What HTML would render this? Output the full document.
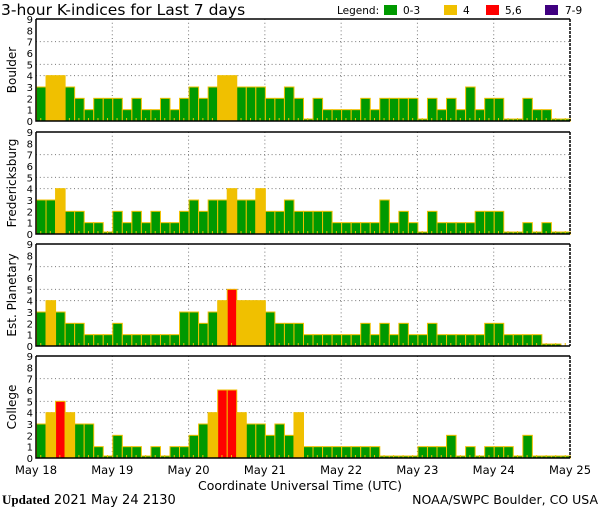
<!DOCTYPE html>
<html><head><meta charset="utf-8"><style>
html,body{margin:0;padding:0;background:#fff;}
svg text{font-family:"DejaVu Sans","Liberation Sans",sans-serif;}
</style></head><body>
<svg id="chart" width="600" height="510" viewBox="0 0 600 510" xmlns="http://www.w3.org/2000/svg">
<rect width="600" height="510" fill="#fff"/>
<text x="1" y="15" font-size="15.5" fill="#000">3-hour K-indices for Last 7 days</text>
<g font-size="10.5">
<text x="337" y="14">Legend:</text>
<rect x="384" y="5" width="13" height="10" fill="#009900"/>
<text x="403" y="14">0-3</text>
<rect x="444" y="5" width="13" height="10" fill="#f0c000"/>
<text x="463" y="14">4</text>
<rect x="486" y="5" width="13" height="10" fill="#ff0000"/>
<text x="505" y="14">5,6</text>
<rect x="545" y="5" width="13" height="10" fill="#400080"/>
<text x="565" y="14">7-9</text>
</g>
<g id="panels"></g>
<text x="300" y="490" font-size="12.5" text-anchor="middle">Coordinate Universal Time (UTC)</text>
<text x="2" y="504" font-size="13"><tspan font-family="Liberation Serif,serif" font-weight="bold">Updated</tspan> 2021 May 24 2130</text>
<text x="598" y="504" font-size="12.5" text-anchor="end">NOAA/SWPC Boulder, CO USA</text>
</svg>
<script>
const stations = ["Boulder","Fredericksburg","Est. Planetary","College"];
const dayLabels = ["May 18","May 19","May 20","May 21","May 22","May 23","May 24","May 25"];
const yTicks = [0,1,2,3,4,5,6,7,8,9];
const boulder = [3,4,4,3,2,1,2,2, 2,1,2,1,1,2,1,2, 3,2,3,4,4,3,3,3, 2,2,3,2,0,2,1,1, 1,1,2,1,2,2,2,2, 0,2,1,2,1,3,1,2, 2,0,0,2,1,1,0,0];
const fredericksburg = [3,3,4,2,2,1,1,0, 2,1,2,1,2,1,1,2, 3,2,3,3,4,3,3,4, 2,2,3,2,2,2,2,1, 1,1,1,1,3,1,2,1, 0,2,1,1,1,1,2,2, 2,0,0,1,0,1,0,0];
const planetary = [3,4,3,2,2,1,1,1, 2,1,1,1,1,1,1,3, 3,2,3,4,5,4,4,4, 3,2,2,2,1,1,1,1, 1,1,2,1,2,1,2,1, 1,2,1,1,1,1,1,2, 2,1,1,1,1,0,0,null];
const college = [3,4,5,4,3,3,1,0, 2,1,1,0,1,0,1,1, 2,3,4,6,6,4,3,3, 2,3,2,4,1,1,1,1, 1,1,1,1,0,0,0,0, 1,1,1,2,0,1,0,1, 1,1,0,2,0,0,0,0];
const series = [boulder,fredericksburg,planetary,college];

const NS="http://www.w3.org/2000/svg";
const X0=36, X1=570, NB=56, PH=102;
const tops=[19,132,244,356];
const bw=(X1-X0)/NB;
function xScale(i){return X0+i*bw;}
function yScale(v,top){return top+PH-v*(PH/9);}
function color(v){return v<=3?"#009900":v==4?"#f0c000":v<=6?"#ff0000":"#400080";}
function mk(tag,attrs,parent){const e=document.createElementNS(NS,tag);for(const k in attrs)e.setAttribute(k,attrs[k]);parent.appendChild(e);return e;}
const root=document.getElementById("panels");
stations.forEach((name,p)=>{
  const top=tops[p], bot=top+PH;
  const g=mk("g",{},root);
  
  
  [4,5,7].forEach(v=>{
    const l=mk("line",{x1:X0,x2:X1,y1:yScale(v,top),y2:yScale(v,top),stroke:"#777","stroke-dasharray":"1,2.8"},g);
    
    
  });
  for(let d=1;d<7;d++){
    const l=mk("line",{x1:xScale(d*8),x2:xScale(d*8),y1:top,y2:bot,stroke:"#777","stroke-dasharray":"1,2.8"},g);
    
    
  }
  series[p].forEach((v,i)=>{
    if(v===null){
      const t=mk("line",{x1:xScale(i)+bw/2,x2:xScale(i)+bw/2,y1:bot-3,y2:bot,stroke:"#f0c000"},g);
      
      
      return;
    }
    const y=v===0?bot-2:yScale(v,top);
    const r=mk("rect",{x:xScale(i)+0.5,y:y,width:bw,height:bot-y,fill:color(v),stroke:"#f0c000","stroke-width":1},g);
    
    
    const t=mk("line",{x1:xScale(i)+bw/2,x2:xScale(i)+bw/2,y1:bot-3,y2:bot,stroke:"#f0c000"},g);
    
    
  });
  const ax=mk("path",{d:`M${X0},${top} H${X1} M${X0},${top} V${bot} H${X1}`,stroke:"#000","stroke-width":1.5,fill:"none"},g);
  
  
  const rb=mk("line",{x1:X1,x2:X1,y1:top,y2:bot,stroke:"#000","stroke-width":1.5,"stroke-dasharray":"3,1"},g);
  
  
  yTicks.forEach(v=>{
    const t=mk("text",{x:33,y:yScale(v,top)+4,"font-size":10,"text-anchor":"end"},g);
    t.textContent=v;
    
    
  });
  const lab=mk("text",{x:0,y:0,"font-size":12,"text-anchor":"middle",transform:`translate(16,${top+PH/2}) rotate(-90)`},g);
  lab.textContent=name;
  
  
});
dayLabels.forEach((d,i)=>{
  const t=mk("text",{x:xScale(i*8),y:474,"font-size":11.5,"text-anchor":"middle"},root);
  t.textContent=d;
  
  
});
</script>
</body></html>
